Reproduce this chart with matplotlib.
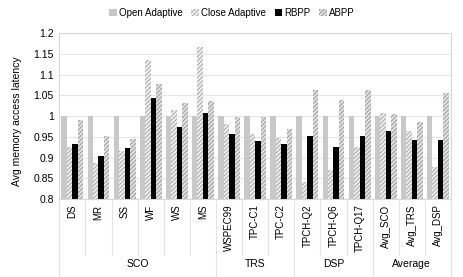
import matplotlib
matplotlib.use("Agg")
import matplotlib.pyplot as plt
import matplotlib.transforms as mtransforms
import numpy as np

plt.rcParams["font.family"] = ["Liberation Sans", "DejaVu Sans"]
plt.rcParams["hatch.linewidth"] = 0.7

categories = ["DS", "MR", "SS", "WF", "WS", "MS", "WSPEC99", "TPC-C1", "TPC-C2",
              "TPCH-Q2", "TPCH-Q6", "TPCH-Q17", "Avg_SCO", "Avg_TRS", "Avg_DSP"]
groups = ["SCO", "TRS", "DSP", "Average"]
group_sizes = [6, 3, 3, 3]

open_adaptive = [1.0] * 15
close_adaptive = [0.926, 0.886, 0.915, 1.135, 1.015, 1.167, 0.982, 0.958, 0.947,
                  0.842, 0.870, 0.925, 1.008, 0.963, 0.878]
rbpp = [0.932, 0.903, 0.922, 1.045, 0.973, 1.008, 0.956, 0.940, 0.933,
        0.951, 0.925, 0.952, 0.964, 0.943, 0.943]
abpp = [0.991, 0.953, 0.946, 1.077, 1.032, 1.037, 0.997, 0.997, 0.968,
        1.062, 1.038, 1.062, 1.006, 0.987, 1.055]

SEP = "#e4e4e4"
GRID = "#e6e6e6"

fig = plt.figure(figsize=(4.64, 2.77), dpi=100)
ax = fig.add_axes([59.3 / 464, 1 - 199 / 277, (451 - 59.3) / 464, (199 - 33.3) / 277])

x = np.arange(len(categories))
w = 0.21
ax.bar(x - 1.5 * w, open_adaptive, w, color="#c8c8c8", linewidth=0,
       label="Open Adaptive", zorder=2)
ax.bar(x - 0.5 * w, close_adaptive, w, color="#eeeeee", edgecolor="#a8a8a8",
       hatch="////////", linewidth=0, label="Close Adaptive", zorder=2)
ax.bar(x + 0.5 * w, rbpp, w, color="black", linewidth=0, label="RBPP", zorder=2)
ax.bar(x + 1.5 * w, abpp, w, color="#e2e2e2", edgecolor="#9a9a9a",
       hatch="////////", linewidth=0, label="ABPP", zorder=2)

ax.set_xlim(-0.5, len(categories) - 0.5)
ax.set_ylim(0.8, 1.2)
ax.set_yticks(np.arange(0.8, 1.2001, 0.05))
ax.set_yticklabels(["0.8", "0.85", "0.9", "0.95", "1", "1.05", "1.1", "1.15", "1.2"])
ax.yaxis.grid(True, color=GRID, linewidth=0.8, zorder=0)
ax.set_axisbelow(True)
ax.tick_params(axis="y", length=0, pad=4, labelsize=7.5)
ax.set_xticks(x)
ax.set_xticklabels(categories, rotation=90, fontsize=7)
ax.tick_params(axis="x", length=0, pad=4)
for s in ax.spines.values():
    s.set_color("#d8d8d8")
    s.set_linewidth(0.8)

ax.set_ylabel("Avg memory access latency", fontsize=7.5)
ax.yaxis.set_label_coords(-0.095, 0.47)

# category separators below the axis
trans = mtransforms.blended_transform_factory(ax.transData, ax.transAxes)
bounds = np.cumsum([0] + group_sizes) - 0.5
for b in np.arange(-0.5, len(categories), 1.0):
    bottom = -0.471 if np.any(np.isclose(bounds, b)) else -0.338
    ax.plot([b, b], [0, bottom], color=SEP, linewidth=0.8, transform=trans,
            clip_on=False)

for g, lo, hi in zip(groups, bounds[:-1], bounds[1:]):
    ax.text((lo + hi) / 2, -0.392, g, ha="center", va="center", fontsize=7.5,
            transform=trans)

fig.legend(loc="center", bbox_to_anchor=(0.5, 0.953), ncol=4, frameon=False,
           fontsize=7, handlelength=0.75, handleheight=0.75, handletextpad=0.25,
           columnspacing=0.9, borderaxespad=0)

fig.savefig("out.png", dpi=100)
